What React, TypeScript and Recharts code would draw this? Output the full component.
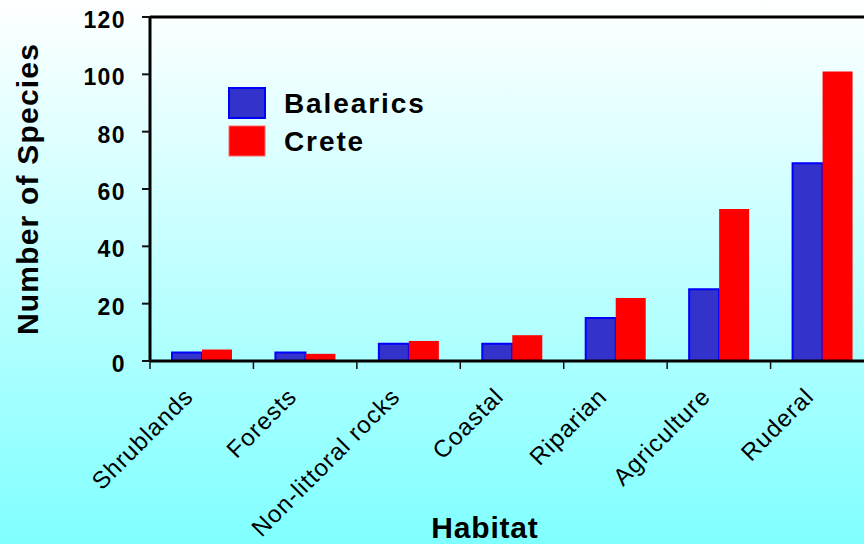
import React from 'react';
import { BarChart, Bar, XAxis, YAxis, ReferenceLine, Legend } from 'recharts';

const categories = ['Shrublands', 'Forests', 'Non-littoral rocks', 'Coastal', 'Riparian', 'Agriculture', 'Ruderal'];
const balearics = [3, 3, 6, 6, 15, 25, 69];
const crete = [4, 2.5, 7, 9, 22, 53, 101];
const yTicks = [0, 20, 40, 60, 80, 100, 120];
const seriesNames = ['Balearics', 'Crete'];

const data = categories.map((c, i) => ({ habitat: c, Balearics: balearics[i], Crete: crete[i] }));

const CHART_W = 874;
const CHART_H = 544;
const Y_W = 150;
const X_H = 183;
const MARGIN = { top: 17, right: 0, left: 0, bottom: 0 };
const BAND = (CHART_W - Y_W - MARGIN.left - MARGIN.right) / categories.length;
const FONT = '"Liberation Sans", Arial, Helvetica, sans-serif';

const BLUE_FILL = '#3333CC';
const BLUE_STROKE = '#0000FF';
const RED_FILL = '#FF0000';

const XTick = (props: any) => {
  const { x, y, payload } = props;
  const lx = x - BAND / 2;
  const ax = x - 7;
  const ay = y + 37;
  return (
    <g>
      <line x1={lx} y1={y} x2={lx} y2={y + 8} stroke="#111" strokeWidth={1.5} />
      <text
        x={ax}
        y={ay}
        transform={`rotate(-45 ${ax} ${ay})`}
        textAnchor="end"
        fontFamily={FONT}
        fontSize={24}
        letterSpacing={1}
        fill="#000"
      >
        {payload.value}
      </text>
    </g>
  );
};

const YTick = (props: any) => {
  const { x, y, payload } = props;
  return (
    <text
      x={x}
      y={y}
      dy={11}
      textAnchor="end"
      fontFamily={FONT}
      fontSize={23}
      fontWeight="bold"
      letterSpacing={1.4}
      fill="#000"
    >
      {payload.value}
    </text>
  );
};

const LegendContent = () => {
  const colors = [
    { fill: BLUE_FILL, stroke: BLUE_STROKE },
    { fill: RED_FILL, stroke: '#FF6666' },
  ];
  return (
    <svg width={220} height={75} style={{ display: 'block' }}>
      {seriesNames.map((n, i) => (
        <g key={n}>
          <rect x={1} y={1 + i * 38} width={36} height={30} fill={colors[i].fill} stroke={colors[i].stroke} strokeWidth={i === 0 ? 2 : 1} />
          <text
            x={56}
            y={16 + i * 38}
            dy={10}
            fontFamily={FONT}
            fontSize={28}
            fontWeight="bold"
            letterSpacing={1.9}
            fill="#000"
          >
            {n}
          </text>
        </g>
      ))}
    </svg>
  );
};

export default function App() {
  return (
    <div
      style={{
        position: 'absolute',
        left: 0,
        top: 0,
        width: 864,
        height: 544,
        overflow: 'hidden',
        background: 'linear-gradient(to bottom, #ffffff 0%, #80ffff 100%)',
      }}
    >
      <BarChart width={CHART_W} height={CHART_H} data={data} margin={MARGIN} barGap={0} barSize={30}>
        <ReferenceLine y={120} stroke="#000" strokeWidth={3} />
        <XAxis
          dataKey="habitat"
          height={X_H}
          interval={0}
          tickLine={false}
          tickSize={0}
          tickMargin={0}
          axisLine={{ stroke: '#000', strokeWidth: 3 }}
          tick={<XTick />}
          label={{
            content: () => (
              <text x={485} y={538} textAnchor="middle" fontFamily={FONT} fontSize={30} fontWeight="bold" letterSpacing={0.8} fill="#000">
                Habitat
              </text>
            ),
          }}
        />
        <YAxis
          width={Y_W}
          domain={[0, 120]}
          ticks={yTicks}
          interval={0}
          tickSize={8}
          tickMargin={16}
          tickLine={{ stroke: '#111', strokeWidth: 2 }}
          axisLine={{ stroke: '#000', strokeWidth: 3 }}
          tick={<YTick />}
          label={{
            content: () => (
              <text
                x={38}
                y={189}
                transform="rotate(-90 38 189)"
                textAnchor="middle"
                fontFamily={FONT}
                fontSize={30}
                fontWeight="bold"
                letterSpacing={1.2}
                fill="#000"
              >
                Number of Species
              </text>
            ),
          }}
        />
        <Legend
          layout="vertical"
          verticalAlign="middle"
          align="center"
          wrapperStyle={{ position: 'absolute', left: 228, top: 87, width: 220, height: 75 }}
          content={<LegendContent />}
        />
        <Bar dataKey="Balearics" fill={BLUE_FILL} stroke={BLUE_STROKE} strokeWidth={2} isAnimationActive={false} />
        <Bar dataKey="Crete" fill={RED_FILL} isAnimationActive={false} />
      </BarChart>
    </div>
  );
}
